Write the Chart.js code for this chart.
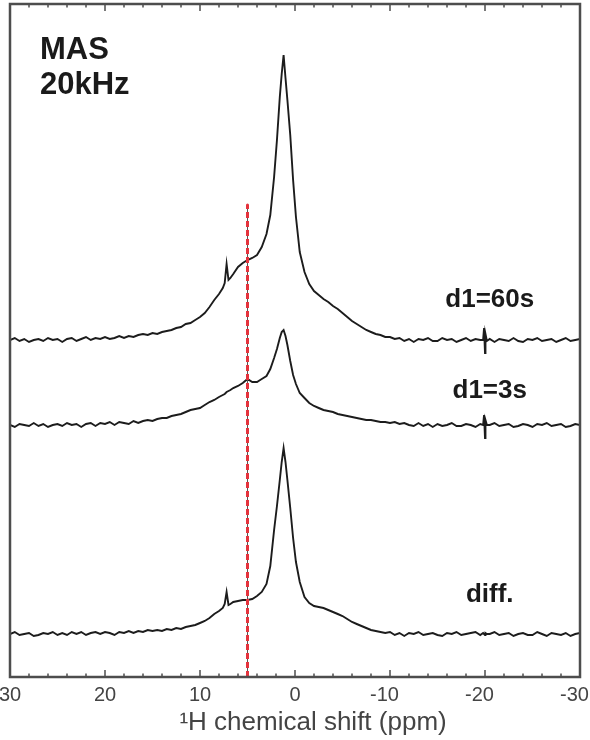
<html>
<head>
<meta http-equiv="content-type" content="text/html; charset=UTF-8" />
<script src="https://cdn.jsdelivr.net/npm/chart.js@4.4.0/dist/chart.umd.min.js"></script>
<style>
  body { margin: 0; background: #fff; }
</style>
</head>
<body>
<canvas id="nmr" width="590" height="740"></canvas>
<script>
// chemical shift grid (ppm), shared by all three spectra
var shift = [
  30, 29.5, 29, 28.5, 28, 27.5, 27, 26.5, 26, 25.5,
  25, 24.5, 24, 23.5, 23, 22.5, 22, 21.5, 21, 20.5,
  20, 19.5, 19, 18.5, 18, 17.5, 17, 16.5, 16, 15.5,
  15, 14.5, 14, 13.5, 13, 12.5, 12, 11.5, 11, 10.5,
  10, 9.5, 9, 8.5, 8,
  7.6, 7.4, 7.2, 7.0, 6.8, 6.5, 6, 5.5, 5, 4.5,
  4, 3.5, 3, 2.6, 2.2, 1.9, 1.6, 1.4, 1.2, 1.0,
  0.8, 0.5, 0.2, -0.1, -0.5,
  -1, -1.5, -2, -2.5, -3, -3.5, -4, -4.5, -5, -5.5,
  -6, -6.5, -7, -7.5, -8, -8.5, -9, -9.5, -10, -10.5,
  -11, -11.5, -12, -12.5, -13, -13.5, -14, -14.5, -15, -15.5,
  -16, -16.5, -17, -17.5, -18, -18.5, -19, -19.5,
  -19.8, -19.9, -20, -20.05, -20.2,
  -20.5, -21, -21.5, -22, -22.5, -23, -23.5, -24, -24.5, -25,
  -25.5, -26, -26.5, -27, -27.5, -28, -28.5, -29, -29.5, -30
];

// intensities (arb. units)
var d1_60s = [
  0, 2, -1, 1, -2, 0, 1, -1, 2, 0,
  1, -2, 1, 2, -1, 1, 3, 0, 2, 1,
  3, 1, 2, 4, 2, 4, 3, 5, 6, 5,
  7, 6, 8, 9, 10, 12, 13, 16, 17, 20,
  23, 27, 33, 40, 46,
  52, 57, 76, 60, 62, 66, 73, 77, 80, 82,
  85, 93, 106, 125, 163, 200, 243, 266, 285, 262,
  240, 205, 160, 123, 88,
  68, 56, 49, 45, 41, 38, 34, 31, 27, 23,
  19, 16, 13, 10, 8, 6, 5, 3, 3, 1,
  2, -1, 1, -2, 1, 0, 2, -1, -1, 2,
  0, 1, -2, 0, 2, -1, 1, 0,
  0, 12, -13, 6, -1,
  1, -2, 1, 0, -1, 2, -1, -2, 1, 0,
  2, -1, 0, 1, -2, 0, 2, -1, 0, 1
];
var d1_3s = [
  0, -2, 1, 0, -1, 2, -1, 1, -2, 0,
  1, -1, 2, 0, 1, -2, 1, 2, -1, 2,
  1, 3, 0, 3, 2, 1, 4, 2, 4, 5,
  4, 6, 7, 7, 9, 10, 11, 13, 15, 16,
  17, 20, 23, 25, 28,
  30, 31, 33, 34, 35, 37, 39, 42, 46, 43,
  43, 46, 49, 56, 67, 76, 87, 93, 95, 89,
  80, 64, 50, 41, 32,
  27, 22, 19, 17, 15, 14, 13, 11, 10, 9,
  8, 7, 6, 5, 5, 4, 3, 3, 2, 3,
  1, 2, 0, -1, 2, -1, 1, -2, 1, -1,
  0, 2, -1, -1, 1, 0, -2, 1,
  0, 10, -13, 5, 0,
  0, 2, -1, 0, 1, -2, -1, 1, 0, -2,
  1, 0, 2, -1, 0, 1, -2, -1, 1, 0
];
var diff = [
  0, 2, -1, 0, 1, -2, -1, 1, 0, 2,
  -1, 1, -1, 2, 0, 2, -1, 1, 2, 0,
  2, 1, -1, 2, 1, 3, 1, 3, 2, 4,
  3, 4, 3, 5, 4, 6, 5, 7, 8, 9,
  11, 13, 16, 20, 23,
  26, 30, 42, 29, 30, 32, 33, 34, 34, 35,
  38, 42, 50, 68, 104, 128, 154, 172, 186, 172,
  154, 126, 96, 72, 52,
  37, 31, 28, 27, 26, 24, 22, 20, 18, 15,
  12, 10, 8, 6, 4, 3, 2, 1, 2, -1,
  1, -2, 1, 0, 2, -1, 0, 1, -1, -2,
  1, 0, 2, -1, 0, 1, 2, -1,
  1, 0, -1, 1, 0,
  0, 2, -1, 0, 1, -2, 0, 1, -1, -1,
  2, 0, -2, 1, 0, -1, 1, -2, 0, 1
];

var traces = [d1_60s, d1_3s, diff];
var traceNames = ['d1=60s', 'd1=3s', 'diff.'];
var baseOffsets = [337, 252, 43];    // vertical stacking of each spectrum
var markerShift = 5;                 // red dashed reference line (ppm)
var markerTop = 472;
var xTicks = [30, 20, 10, 0, -10, -20, -30];

traces.forEach(function(t, i) {
  if (t.length !== shift.length) throw new Error('trace ' + i + ' has ' + t.length + ' points, grid has ' + shift.length);
});

var FONT = "'Liberation Sans', Arial, Helvetica, sans-serif";

var datasets = [];
datasets.push({
  data: [{x: markerShift, y: 0}, {x: markerShift, y: markerTop}],
  borderColor: '#e5333d', borderWidth: 3, borderDash: [6, 3],
  pointRadius: [0, 1.5], pointBackgroundColor: '#e5333d', pointBorderWidth: 0
});
datasets.push({
  data: [{x: markerShift, y: 0}, {x: markerShift, y: markerTop}],
  borderColor: '#555', borderWidth: 1, pointRadius: 0
});
traces.forEach(function(t, i) {
  datasets.push({
    label: traceNames[i],
    data: shift.map(function(s, k) { return {x: s, y: t[k] + baseOffsets[i]}; }),
    borderColor: '#1c1c1c', borderWidth: 1.9, pointRadius: 0, tension: 0
  });
});

var framePlugin = {
  id: 'frame',
  afterDraw: function(chart) {
    var c = chart.ctx, a = chart.chartArea, xs = chart.scales.x, ys = chart.scales.y;
    c.save();
    c.strokeStyle = '#4d4d4d';
    c.lineWidth = 1.5;
    for (var v = -30; v <= 30; v += 2) {
      var px = xs.getPixelForValue(v);
      var len = (v % 10 === 0) ? 7 : 3.5;
      c.beginPath();
      c.moveTo(px, a.bottom); c.lineTo(px, a.bottom - len);
      c.moveTo(px, a.top); c.lineTo(px, a.top + len);
      c.stroke();
    }
    c.lineWidth = 2.5;
    c.strokeRect(a.left, a.top, a.right - a.left, a.bottom - a.top);

    c.fillStyle = '#1a1a1a';
    c.textBaseline = 'alphabetic';
    c.font = 'bold 31px ' + FONT;
    c.textAlign = 'left';
    c.fillText('MAS', xs.getPixelForValue(26.85), ys.getPixelForValue(618));
    c.fillText('20kHz', xs.getPixelForValue(26.85), ys.getPixelForValue(583));

    c.font = 'bold 26px ' + FONT;
    c.textAlign = 'center';
    var labelY = [370, 279, 75];
    traceNames.forEach(function(n, i) {
      c.fillText(n, xs.getPixelForValue(-20.5), ys.getPixelForValue(labelY[i]));
    });
    c.restore();
  }
};

new Chart(document.getElementById('nmr'), {
  type: 'line',
  data: { datasets: datasets },
  options: {
    responsive: false,
    animation: false,
    layout: { autoPadding: false, padding: { left: 10, right: 10, top: 4, bottom: 0 } },
    plugins: { legend: { display: false }, tooltip: { enabled: false } },
    scales: {
      x: {
        type: 'linear', reverse: true, min: -30, max: 30,
        grid: { display: false, drawTicks: false },
        border: { display: false },
        afterBuildTicks: function(scale) {
          scale.ticks = xTicks.map(function(v) { return {value: v}; });
        },
        // edge labels may hang over the plot frame, as in the original figure
        afterFit: function(scale) {
          scale.height = 63;
          scale.paddingLeft = 0;
          scale.paddingRight = 0;
        },
        ticks: {
          padding: 6, maxRotation: 0, autoSkip: false, color: '#444',
          font: { family: FONT, size: 20 },
          // trailing spaces pull negative labels left, like the original
          callback: function(v) { return v < 0 ? v + '  ' : String(v); }
        },
        title: {
          display: true, text: '     \u00B9H chemical shift (ppm)', color: '#444',
          font: { family: FONT, size: 26, lineHeight: '30px' },
          padding: { top: 1, bottom: 2 }
        }
      },
      y: { display: false, min: 0, max: 673 }
    }
  },
  plugins: [framePlugin]
});
</script>
</body>
</html>
